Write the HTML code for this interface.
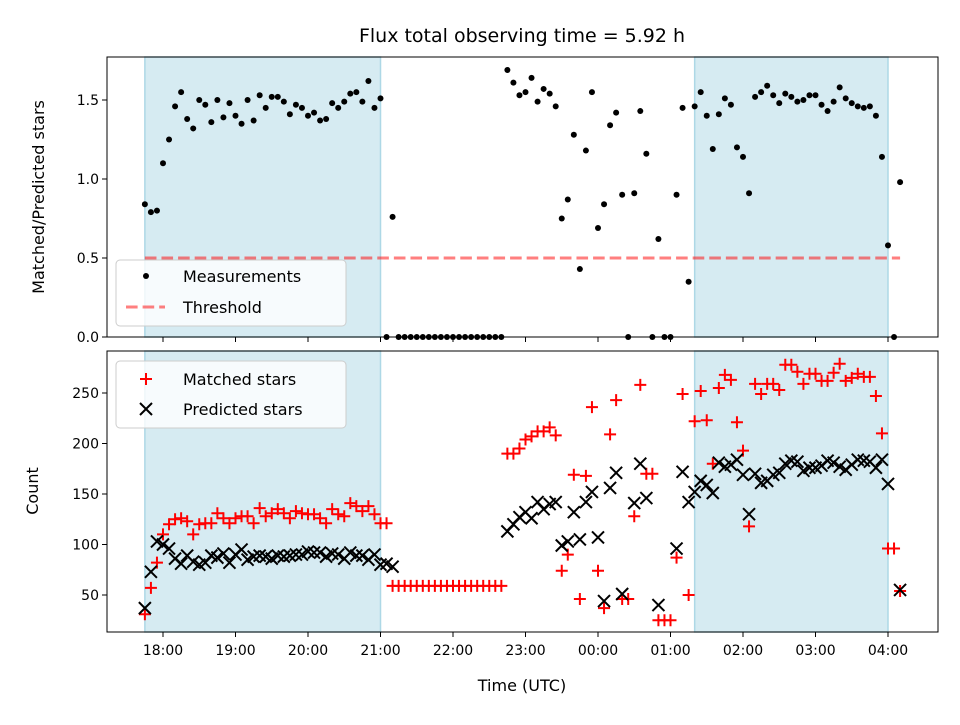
<!DOCTYPE html>
<html><head><meta charset="utf-8"><style>
body{margin:0;background:#fff}
svg text{font-family:"DejaVu Sans","Liberation Sans",sans-serif;fill:#000}
</style></head><body>
<svg id="chart" width="960" height="720" xmlns="http://www.w3.org/2000/svg"></svg>
<script>
// index i -> time = 17:45 + 5*i minutes
const ratioValues=[0.84,0.79,0.80,1.10,1.25,1.46,1.55,1.38,1.32,1.50,1.47,1.36,1.50,1.39,1.48,1.40,1.35,1.50,1.37,1.53,1.45,1.52,1.52,1.49,1.41,1.47,1.45,1.40,1.42,1.37,1.38,1.48,1.45,1.49,1.54,1.55,1.49,1.62,1.45,1.51,
0,0.76,0,0,0,0,0,0,0,0,0,0,0,0,0,0,0,0,0,0,
1.69,1.61,1.53,1.55,1.64,1.49,1.57,1.54,1.46,0.75,0.87,1.28,0.43,1.18,1.55,0.69,0.84,1.34,1.42,0.90,0,0.91,1.43,1.16,0,0.62,0,0,0.90,1.45,0.35,1.46,1.55,1.40,1.19,1.41,1.51,1.47,1.20,1.14,0.91,1.52,1.55,1.59,1.53,1.48,1.54,1.52,1.49,1.50,1.53,1.53,1.47,1.43,1.49,1.58,1.51,1.48,1.46,1.45,1.46,1.40,1.14,0.58,0,0.98];
const matchedValues=[31,57,82,110,120,125,126,123,110,120,121,121,131,126,121,126,128,128,121,136,128,131,135,131,126,133,131,130,130,126,121,135,130,128,141,138,133,138,130,121,
121,59,59,59,59,59,59,59,59,59,59,59,59,59,59,59,59,59,59,59,
190,190,195,204,207,212,212,216,208,74,90,169,46,168,236,74,37,209,243,46,46,128,258,170,170,25,25,25,87,249,50,222,252,223,180,255,268,263,221,193,118,259,249,259,259,253,278,278,271,259,269,269,262,262,270,279,262,265,269,266,266,247,210,96,96,54];
const predictedValues=[37,73,103,100,96,86,81,89,83,80,82,89,87,91,82,90,95,85,88,89,88,86,89,88,89,90,90,93,92,92,88,91,90,86,92,89,89,85,90,80,
81,78,null,null,null,null,null,null,null,null,null,null,null,null,null,null,null,null,null,null,
113,120,127,132,126,142,135,140,142,99,103,132,105,142,152,107,44,156,171,51,null,141,180,146,null,40,null,null,96,172,142,152,163,159,151,181,177,179,184,169,130,170,161,163,169,171,180,183,182,173,176,176,178,183,181,177,174,179,184,183,182,176,184,160,null,55];
const xTickLabels=["18:00","19:00","20:00","21:00","22:00","23:00","00:00","01:00","02:00","03:00","04:00"];
const topYTicks=[0.0,0.5,1.0,1.5];
const botYTicks=[50,100,150,200,250];
const shadeSpans=[[-15,180],[440,600]]; // minutes from 18:00
const threshold=0.5;

const NS="http://www.w3.org/2000/svg";
const svg=document.getElementById('chart');
function el(tag,attrs,parent){const e=document.createElementNS(NS,tag);for(const k in attrs)e.setAttribute(k,attrs[k]);(parent||svg).appendChild(e);return e;}
const L=107,R=938;
const xMin=m=>163+m*72.5/60;
const tIdx=i=>-15+5*i;
const yTop=v=>337-v*158;
const yBot=v=>595-(v-50)*1.01;

shadeSpans.forEach((s,k)=>{
 [[57,280],[351,281]].forEach(([y,h],j)=>{
  const r=el('rect',{x:xMin(s[0]),y:y,width:xMin(s[1])-xMin(s[0]),height:h,fill:'#add8e6','fill-opacity':0.5,stroke:'#add8e6','stroke-width':1.5});
  
  
 });
});
const th=el('line',{x1:xMin(tIdx(0)),x2:xMin(tIdx(ratioValues.length-1)),y1:yTop(threshold),y2:yTop(threshold),stroke:'#ff0000','stroke-opacity':0.5,'stroke-width':3,'stroke-dasharray':'11.6,5'});


const gm=el('g',{});


ratioValues.forEach((v,i)=>{
 const c=el('circle',{cx:xMin(tIdx(i)),cy:yTop(v),r:3,fill:'#000'},gm);
 
 
});
const gM=el('g',{});


function plus(x,y,p){return el('path',{d:`M${x-6},${y}H${x+6}M${x},${y-6}V${y+6}`,stroke:'#ff0000','stroke-width':2},p);}
function cross(x,y,p){return el('path',{d:`M${x-6},${y-6}L${x+6},${y+6}M${x-6},${y+6}L${x+6},${y-6}`,stroke:'#000','stroke-width':2},p);}
matchedValues.forEach((v,i)=>{
 const s=plus(xMin(tIdx(i)),yBot(v),gM);
 
 
});
const gP=el('g',{});


predictedValues.forEach((v,i)=>{
 if(v===null)return;
 const s=cross(xMin(tIdx(i)),yBot(v),gP);
 
 
});
[[57,337,'top'],[351,632,'bottom']].forEach(([t,b,n])=>{
 const r=el('rect',{x:L,y:t,width:R-L,height:b-t,fill:'none',stroke:'#000','stroke-width':1});
 
 
 xTickLabels.forEach((lab,k)=>{
  const x=xMin(k*60);
  el('line',{x1:x,x2:x,y1:b,y2:b+5,stroke:'#000'});
  if(n==='bottom'){const tx=el('text',{x:x,y:b+23,'text-anchor':'middle','font-size':14});tx.textContent=lab;
   
   }
 });
});
topYTicks.forEach(v=>{const y=yTop(v);el('line',{x1:L-5,x2:L,y1:y,y2:y,stroke:'#000'});
 const t=el('text',{x:L-8,y:y+5,'text-anchor':'end','font-size':14});t.textContent=v.toFixed(1);
 
 });
botYTicks.forEach(v=>{const y=yBot(v);el('line',{x1:L-5,x2:L,y1:y,y2:y,stroke:'#000'});
 const t=el('text',{x:L-8,y:y+5,'text-anchor':'end','font-size':14});t.textContent=v;
 
 });
function legend(y0,h,name){const g=el('g',{});
 el('rect',{x:116,y:y0,width:230,height:h,rx:4,fill:'#fff','fill-opacity':0.8,stroke:'#cccccc'},g);return g;}
const lg1=legend(260,66,'top-legend');
el('circle',{cx:146,cy:276,r:3,fill:'#000'},lg1);
el('line',{x1:126,x2:165,y1:307,y2:307,stroke:'#ff0000','stroke-opacity':0.5,'stroke-width':3,'stroke-dasharray':'11.6,5'},lg1);
let t=el('text',{x:183,y:282,'font-size':16},lg1);t.textContent='Measurements';
t=el('text',{x:183,y:313,'font-size':16},lg1);t.textContent='Threshold';
const lg2=legend(361,67,'bottom-legend');
plus(146,379,lg2);cross(146,409,lg2);
t=el('text',{x:183,y:385,'font-size':16},lg2);t.textContent='Matched stars';
t=el('text',{x:183,y:415,'font-size':16},lg2);t.textContent='Predicted stars';
t=el('text',{x:522,y:42,'text-anchor':'middle','font-size':19});t.textContent='Flux total observing time = 5.92 h';

t=el('text',{x:522,y:691,'text-anchor':'middle','font-size':16});t.textContent='Time (UTC)';

t=el('text',{x:0,y:0,'text-anchor':'middle','font-size':16,transform:'translate(44,197) rotate(-90)'});t.textContent='Matched/Predicted stars';

t=el('text',{x:0,y:0,'text-anchor':'middle','font-size':16,transform:'translate(38,491) rotate(-90)'});t.textContent='Count';

</script>
</body></html>
